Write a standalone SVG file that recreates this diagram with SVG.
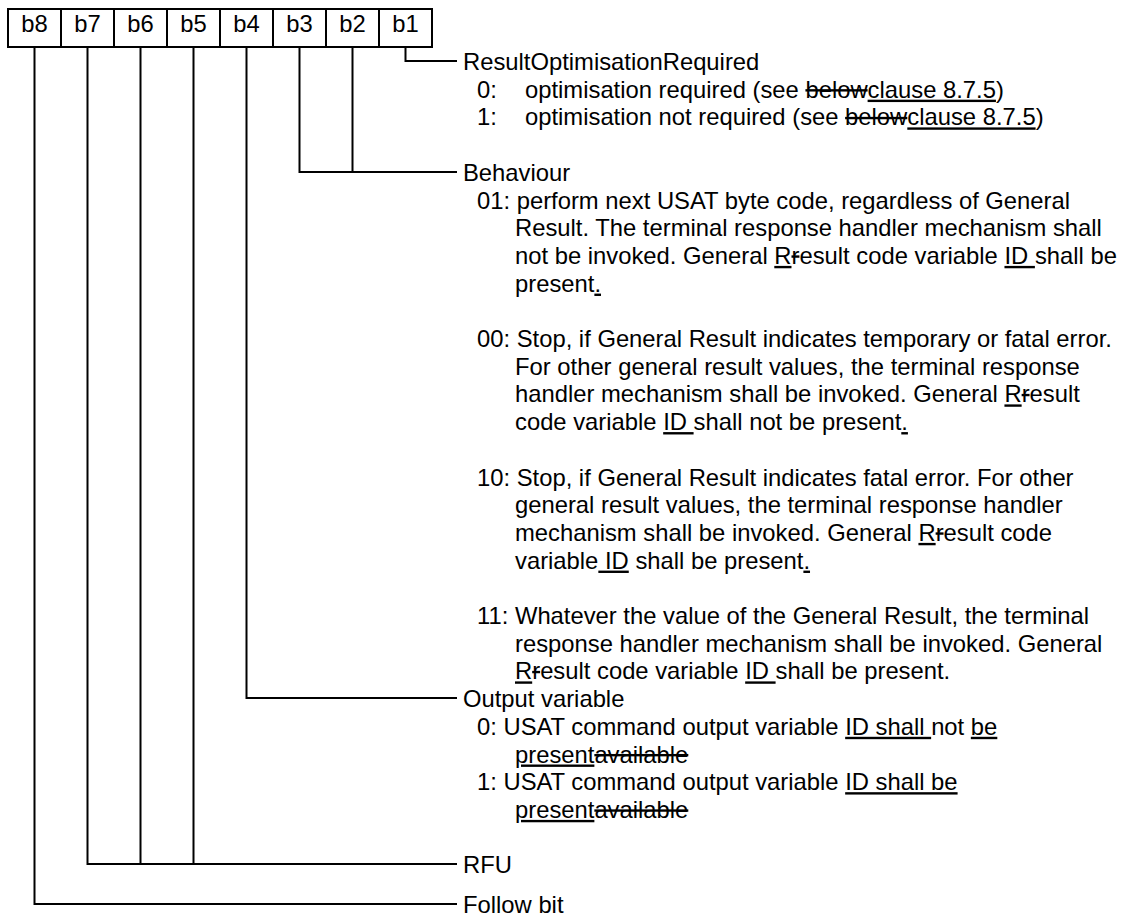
<svg xmlns="http://www.w3.org/2000/svg" width="1127" height="920" viewBox="0 0 1127 920">
<style>
.box{fill:#fff;stroke:#000;stroke-width:2}
.t{font-family:"Liberation Sans",Arial,sans-serif;font-size:23.8px;fill:#000}
.c{text-anchor:middle}
.conn{fill:none;stroke:#000;stroke-width:2}
.u{text-decoration:underline}
.s{text-decoration:line-through}
</style>
<rect width="1127" height="920" fill="#fff"/>
<g id="bits">
<g id="bit-b8"><rect class="box" x="8" y="9" width="53" height="38"/><text class="t c" x="34.5" y="32">b8</text></g>
<g id="bit-b7"><rect class="box" x="61" y="9" width="53" height="38"/><text class="t c" x="87.5" y="32">b7</text></g>
<g id="bit-b6"><rect class="box" x="114" y="9" width="53" height="38"/><text class="t c" x="140.5" y="32">b6</text></g>
<g id="bit-b5"><rect class="box" x="167" y="9" width="53" height="38"/><text class="t c" x="193.5" y="32">b5</text></g>
<g id="bit-b4"><rect class="box" x="220" y="9" width="53" height="38"/><text class="t c" x="246.5" y="32">b4</text></g>
<g id="bit-b3"><rect class="box" x="273" y="9" width="53" height="38"/><text class="t c" x="299.5" y="32">b3</text></g>
<g id="bit-b2"><rect class="box" x="326" y="9" width="53" height="38"/><text class="t c" x="352.5" y="32">b2</text></g>
<g id="bit-b1"><rect class="box" x="379" y="9" width="53" height="38"/><text class="t c" x="405.5" y="32">b1</text></g>
</g>
<g id="connectors">
<path class="conn" d="M405.5,47 V61 H457"/>
<path class="conn" d="M299.5,47 V172 H457 M352.5,47 V172"/>
<path class="conn" d="M246.5,47 V698 H457"/>
<path class="conn" d="M87.5,47 V864 H457 M140.5,47 V864 M193.5,47 V864"/>
<path class="conn" d="M34.5,47 V904 H457"/>
</g>
<g id="label-result-optimisation">
<text class="t" x="463" y="70">ResultOptimisationRequired</text>
<text class="t" x="477" y="97.7">0:</text>
<text class="t" x="525" y="97.7">optimisation required (see <tspan class="s">below</tspan><tspan class="u">clause 8.7.5</tspan>)</text>
<text class="t" x="477" y="125.4">1:</text>
<text class="t" x="525" y="125.4">optimisation not required (see <tspan class="s">below</tspan><tspan class="u">clause 8.7.5</tspan>)</text>
</g>
<g id="label-behaviour">
<text class="t" x="463" y="180.8">Behaviour</text>
<text class="t" x="477" y="208.5">01: perform next USAT byte code, regardless of General</text>
<text class="t" x="515" y="236.2">Result. The terminal response handler mechanism shall</text>
<text class="t" x="515" y="263.9" xml:space="preserve">not be invoked. General <tspan class="u">R</tspan><tspan class="s">r</tspan>esult code variable <tspan class="u">ID </tspan>shall be</text>
<text class="t" x="515" y="291.6">present<tspan class="u">.</tspan></text>
<text class="t" x="477" y="347">00: Stop, if General Result indicates temporary or fatal error.</text>
<text class="t" x="515" y="374.7">For other general result values, the terminal response</text>
<text class="t" x="515" y="402.4">handler mechanism shall be invoked. General <tspan class="u">R</tspan><tspan class="s">r</tspan>esult</text>
<text class="t" x="515" y="430.1" xml:space="preserve">code variable <tspan class="u">ID </tspan>shall not be present<tspan class="u">.</tspan></text>
<text class="t" x="477" y="485.5">10: Stop, if General Result indicates fatal error. For other</text>
<text class="t" x="515" y="513.2">general result values, the terminal response handler</text>
<text class="t" x="515" y="540.9">mechanism shall be invoked. General <tspan class="u">R</tspan><tspan class="s">r</tspan>esult code</text>
<text class="t" x="515" y="568.6" xml:space="preserve">variable<tspan class="u"> ID</tspan> shall be present<tspan class="u">.</tspan></text>
<text class="t" x="477" y="624">11: Whatever the value of the General Result, the terminal</text>
<text class="t" x="515" y="651.7">response handler mechanism shall be invoked. General</text>
<text class="t" x="515" y="679.4" xml:space="preserve"><tspan class="u">R</tspan><tspan class="s">r</tspan>esult code variable <tspan class="u">ID </tspan>shall be present.</text>
</g>
<g id="label-output-variable">
<text class="t" x="463" y="707.1">Output variable</text>
<text class="t" x="477" y="734.8" xml:space="preserve">0: USAT command output variable <tspan class="u">ID shall </tspan>not <tspan class="u">be</tspan></text>
<text class="t" x="515" y="762.5"><tspan class="u">present</tspan><tspan class="s">available</tspan></text>
<text class="t" x="477" y="790.2">1: USAT command output variable <tspan class="u">ID shall be</tspan></text>
<text class="t" x="515" y="817.9"><tspan class="u">present</tspan><tspan class="s">available</tspan></text>
</g>
<g id="label-rfu"><text class="t" x="463" y="873.3">RFU</text></g>
<g id="label-follow-bit"><text class="t" x="463" y="913">Follow bit</text></g>
</svg>
